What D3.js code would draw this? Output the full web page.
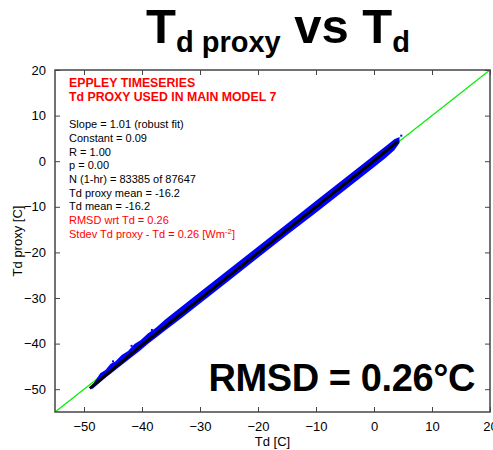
<!DOCTYPE html>
<html>
<head>
<meta charset="utf-8">
<script src="https://cdn.jsdelivr.net/npm/d3@7"></script>
<style>
body { margin: 0; background: #fff; }
text { font-family: "Liberation Sans", Arial, sans-serif; }
</style>
</head>
<body>
<div id="chart"></div>
<script>
// axis ticks
var xTicks = [-50, -40, -30, -20, -10, 0, 10, 20];
var yTicks = [-50, -40, -30, -20, -10, 0, 10, 20];

// blue point cloud, read as envelope (Td, proxy upper, proxy lower)
var bandTd    = [-48.6, -47.2, -46.3, -45.4, -44.6, -43.5, -42.4, -41.3, -40.2, -39.0, -37.6, -36.0, -33.0, -30.0, -25.0, -20.0, -15.0, -10.0, -5.0, 0.0, 2.0, 3.5, 4.4];
var bandUpper = [-49.2, -46.5, -45.8, -44.4, -43.9, -42.5, -41.6, -40.1, -39.2, -37.8, -36.5, -34.7, -31.7, -28.7, -23.7, -18.7, -13.7, -8.7, -3.7, 1.3, 3.3, 4.8, 5.3];
var bandLower = [-50.0, -48.5, -47.5, -46.6, -45.8, -44.7, -43.6, -42.5, -41.4, -40.1, -38.7, -37.1, -34.2, -31.2, -26.2, -21.2, -16.2, -11.3, -6.3, -1.3, 0.7, 2.4, 4.0];

// stray blue points
var strayTd    = [-45.0, -41.8, -38.3, 4.7];
var strayProxy = [-43.9, -40.5, -37.0, 5.6];

// black core of the cloud
var coreTd    = [-49.0, -40.0, -30.0, -20.0, -10.0, 0.0, 4.2];
var coreProxy = [-49.8, -40.3, -30.2, -20.1, -10.0, 0.1, 4.4];

var oneToOne = [-55, 20];

var statsLines = [
  {t: "EPPLEY TIMESERIES", c: "#ff0000", b: true},
  {t: "Td PROXY USED IN MAIN MODEL 7", c: "#ff0000", b: true},
  {t: "", c: "#000", b: false},
  {t: "Slope = 1.01 (robust fit)", c: "#000", b: false},
  {t: "Constant = 0.09", c: "#000", b: false},
  {t: "R = 1.00", c: "#000", b: false},
  {t: "p = 0.00", c: "#000", b: false},
  {t: "N (1-hr) = 83385 of 87647", c: "#000", b: false},
  {t: "Td proxy mean = -16.2", c: "#000", b: false},
  {t: "Td mean = -16.2", c: "#000", b: false},
  {t: "RMSD wrt Td = 0.26", c: "#ff0000", b: false},
  {t: "Stdev Td proxy - Td = 0.26  [Wm", c: "#ff0000", b: false}
];

var W = 493, H = 450;
var margin = {top: 70, right: 3, bottom: 38, left: 55};
var width = W - margin.left - margin.right,
    height = H - margin.top - margin.bottom;

var svg = d3.select("#chart").append("svg")
    .attr("width", W)
    .attr("height", H);

// title
var title = svg.append("text")
    .attr("x", 278)
    .attr("y", 43)
    .attr("text-anchor", "middle")
    .style("font-weight", "bold")
    .style("font-size", "49px");
title.append("tspan").text("T");
title.append("tspan").attr("dy", 9).style("font-size", "29px").text("d proxy");
title.append("tspan").attr("dy", -9).text(" vs T");
title.append("tspan").attr("dy", 9).style("font-size", "29px").text("d");

var g = svg.append("g")
    .attr("transform", "translate(" + margin.left + "," + margin.top + ")");

var x = d3.scaleLinear().domain([-55, 20]).range([0, width]);
var y = d3.scaleLinear().domain([-55, 20]).range([height, 0]);

g.append("clipPath").attr("id", "clip")
  .append("rect").attr("width", width).attr("height", height);

var plot = g.append("g").attr("clip-path", "url(#clip)");

// 1:1 line
plot.append("line")
    .attr("x1", x(oneToOne[0])).attr("y1", y(oneToOne[0]))
    .attr("x2", x(oneToOne[1])).attr("y2", y(oneToOne[1]))
    .attr("stroke", "#00ee00")
    .attr("stroke-width", 1.3);

// blue cloud
var area = d3.area()
    .x((d, i) => x(bandTd[i]))
    .y0((d, i) => y(bandLower[i]))
    .y1((d, i) => y(bandUpper[i]));
plot.append("path")
    .attr("d", area(bandTd))
    .attr("fill", "#0000ff");

plot.selectAll(".stray")
    .data(strayTd)
    .enter()
    .append("rect")
    .attr("x", (d) => x(d) - 1)
    .attr("y", (d, i) => y(strayProxy[i]) - 1)
    .attr("width", 2)
    .attr("height", 2)
    .attr("fill", "#0000ff");

// black core
var line = d3.line()
    .x((d, i) => x(coreTd[i]))
    .y((d, i) => y(coreProxy[i]));
plot.append("path")
    .attr("d", line(coreTd))
    .attr("fill", "none")
    .attr("stroke", "#000")
    .attr("stroke-width", 3);

// axes (box with inward ticks)
var axisColor = "#444";
function styleAxis(sel, labels) {
    sel.select(".domain").remove();
    sel.selectAll("line").attr("stroke", axisColor);
    sel.selectAll("text")
        .style("font-size", "13px")
        .attr("fill", "#000");
    if (!labels) sel.selectAll("text").remove();
}

g.append("g")
    .attr("transform", "translate(0," + height + ")")
    .call(d3.axisBottom(x).tickValues(xTicks).tickSizeInner(-5).tickPadding(10))
    .call(styleAxis, true);
g.append("g")
    .call(d3.axisTop(x).tickValues(xTicks).tickSizeInner(-5))
    .call(styleAxis, false);
g.append("g")
    .call(d3.axisLeft(y).tickValues(yTicks).tickSizeInner(-5).tickPadding(9))
    .call(styleAxis, true);
g.append("g")
    .attr("transform", "translate(" + width + ",0)")
    .call(d3.axisRight(y).tickValues(yTicks).tickSizeInner(-5))
    .call(styleAxis, false);

g.append("rect")
    .attr("width", width)
    .attr("height", height)
    .attr("fill", "none")
    .attr("stroke", axisColor)
    .attr("stroke-width", 1.5);

// axis labels
svg.append("text")
    .attr("x", margin.left + width / 2)
    .attr("y", 446)
    .attr("text-anchor", "middle")
    .style("font-size", "13px")
    .text("Td [C]");
svg.append("text")
    .attr("transform", "translate(22," + (margin.top + height / 2) + ") rotate(-90)")
    .attr("text-anchor", "middle")
    .style("font-size", "13px")
    .text("Td proxy [C]");

// stats text
var stats = svg.append("g");
stats.selectAll("text")
    .data(statsLines)
    .enter()
    .append("text")
    .attr("x", 69)
    .attr("y", (d, i) => 87 + i * 13.7)
    .attr("fill", (d) => d.c)
    .style("font-size", (d) => d.b ? "12.3px" : "11px")
    .style("font-weight", (d) => d.b ? "bold" : "normal")
    .text((d) => d.t);
var last = stats.selectAll("text").filter((d, i) => i === statsLines.length - 1);
last.append("tspan").attr("dy", -4).style("font-size", "8px").text("-2");
last.append("tspan").attr("dy", 4).text("]");

// big RMSD label
svg.append("text")
    .attr("x", 475)
    .attr("y", 391)
    .attr("text-anchor", "end")
    .style("font-size", "38px")
    .style("letter-spacing", "-0.4px")
    .style("font-weight", "bold")
    .text("RMSD = 0.26°C");
</script>
</body>
</html>
